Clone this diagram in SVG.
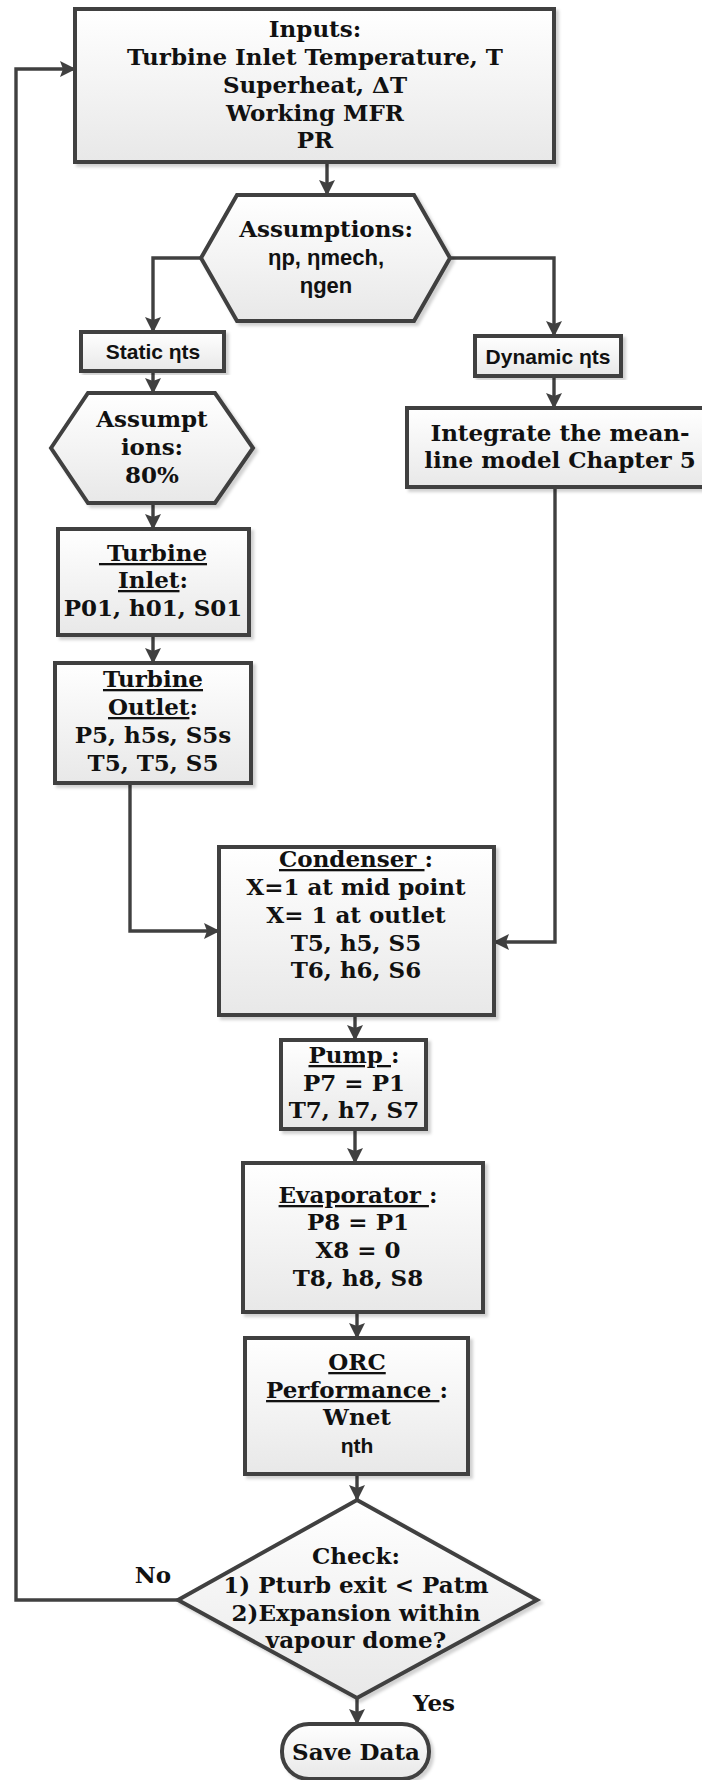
<svg xmlns="http://www.w3.org/2000/svg" width="702" height="1780" viewBox="0 0 702 1780">
<defs>
<linearGradient id="g" x1="0" y1="0" x2="0" y2="1">
<stop offset="0" stop-color="#ffffff"/>
<stop offset="1" stop-color="#e8e8e8"/>
</linearGradient>
<filter id="sh" x="-10%" y="-10%" width="120%" height="120%">
<feDropShadow dx="3" dy="3" stdDeviation="1.5" flood-color="#000" flood-opacity="0.18"/>
</filter>
<marker id="ar" markerUnits="userSpaceOnUse" markerWidth="18" markerHeight="18" refX="15" refY="8" orient="auto">
<path d="M0,0 L16,8 L0,16 L3,8 Z" fill="#404040"/>
</marker>
<style>
.n{fill:url(#g);stroke:#404040;stroke-width:4;filter:url(#sh)}
.c{fill:none;stroke:#404040;stroke-width:3.4;marker-end:url(#ar)}
.t{font-family:"DejaVu Serif","Liberation Serif",serif;font-weight:bold;font-size:23px;text-anchor:middle;fill:#111}
.s{font-family:"Liberation Sans",Arial,sans-serif;font-weight:bold;font-size:21px;text-anchor:middle;fill:#111}
.s2{font-size:22px}
.u{text-decoration:underline}
</style>
</defs>

<g id="connectors">
<path class="c" d="M327 162 V195"/>
<path class="c" d="M201 258 H153 V332"/>
<path class="c" d="M450 258 H554 V336"/>
<path class="c" d="M153 371 V393"/>
<path class="c" d="M554 376 V408"/>
<path class="c" d="M153 503 V529"/>
<path class="c" d="M153 635 V663"/>
<path class="c" d="M130 783 V931 H219"/>
<path class="c" d="M555 487 V942 H494"/>
<path class="c" d="M355 1015 V1040"/>
<path class="c" d="M355 1129 V1163"/>
<path class="c" d="M357 1312 V1338"/>
<path class="c" d="M357 1474 V1500"/>
<path class="c" d="M357 1698 V1724"/>
<path class="c" d="M178 1600 H16 V69 H75"/>
<text class="t" x="153" y="1583">No</text>
<text class="t" x="434" y="1711">Yes</text>
</g>

<g id="inputs">
<rect class="n" x="75" y="9" width="479" height="153"/>
<text class="t" x="315" y="37">Inputs:</text>
<text class="t" x="315" y="65">Turbine Inlet Temperature, T</text>
<text class="t" x="315" y="93">Superheat, ΔT</text>
<text class="t" x="315" y="121">Working MFR</text>
<text class="t" x="315" y="148">PR</text>
</g>

<g id="assumptions">
<polygon class="n" points="201,258 237,195 414,195 450,258 414,321 237,321"/>
<text class="t" x="326" y="237">Assumptions:</text>
<text class="s s2" x="326" y="265">ηp, ηmech,</text>
<text class="s s2" x="326" y="293">ηgen</text>
</g>

<g id="static">
<rect class="n" x="81" y="332" width="143" height="39"/>
<text class="s" x="153" y="359">Static ηts</text>
</g>

<g id="dynamic">
<rect class="n" x="475" y="336" width="146" height="40"/>
<text class="s" x="548" y="364">Dynamic ηts</text>
</g>

<g id="assumptions80">
<polygon class="n" points="51,448 88,393 215,393 253,448 215,503 88,503"/>
<text class="t" x="152" y="427">Assumpt</text>
<text class="t" x="152" y="455">ions:</text>
<text class="t" x="152" y="483">80%</text>
</g>

<g id="integrate">
<rect class="n" x="407" y="408" width="320" height="79"/>
<text class="t" x="560" y="441">Integrate the mean-</text>
<text class="t" x="560" y="468">line model Chapter 5</text>
</g>

<g id="turbine-inlet">
<rect class="n" x="58" y="529" width="191" height="106"/>
<text class="t" x="153" y="561" xml:space="preserve"><tspan class="u"> Turbine</tspan></text>
<text class="t" x="153" y="588"><tspan class="u">Inlet</tspan>:</text>
<text class="t" x="153" y="616">P01, h01, S01</text>
</g>

<g id="turbine-outlet">
<rect class="n" x="55" y="663" width="196" height="120"/>
<text class="t" x="153" y="687"><tspan class="u">Turbine</tspan></text>
<text class="t" x="153" y="715"><tspan class="u">Outlet</tspan>:</text>
<text class="t" x="153" y="743">P5, h5s, S5s</text>
<text class="t" x="153" y="771">T5, T5, S5</text>
</g>

<g id="condenser">
<rect class="n" x="219" y="847" width="275" height="168"/>
<text class="t" x="356" y="867" xml:space="preserve"><tspan class="u">Condenser </tspan>:</text>
<text class="t" x="356" y="895">X=1 at mid point</text>
<text class="t" x="356" y="923">X= 1 at outlet</text>
<text class="t" x="356" y="951">T5, h5, S5</text>
<text class="t" x="356" y="978">T6, h6, S6</text>
</g>

<g id="pump">
<rect class="n" x="281" y="1040" width="145" height="89"/>
<text class="t" x="354" y="1063" xml:space="preserve"><tspan class="u">Pump </tspan>:</text>
<text class="t" x="354" y="1091">P7 = P1</text>
<text class="t" x="354" y="1118">T7, h7, S7</text>
</g>

<g id="evaporator">
<rect class="n" x="243" y="1163" width="240" height="149"/>
<text class="t" x="358" y="1203" xml:space="preserve"><tspan class="u">Evaporator </tspan>:</text>
<text class="t" x="358" y="1230">P8 = P1</text>
<text class="t" x="358" y="1258">X8 = 0</text>
<text class="t" x="358" y="1286">T8, h8, S8</text>
</g>

<g id="orc-performance">
<rect class="n" x="245" y="1338" width="223" height="136"/>
<text class="t" x="357" y="1370"><tspan class="u">ORC</tspan></text>
<text class="t" x="357" y="1398" xml:space="preserve"><tspan class="u">Performance </tspan>:</text>
<text class="t" x="357" y="1425">Wnet</text>
<text class="s" x="357" y="1453">ηth</text>
</g>

<g id="check">
<polygon class="n" points="357,1500 537,1600 357,1698 178,1600"/>
<text class="t" x="356" y="1564">Check:</text>
<text class="t" x="356" y="1593">1) Pturb exit &lt; Patm</text>
<text class="t" x="356" y="1621">2)Expansion within</text>
<text class="t" x="356" y="1648">vapour dome?</text>
</g>

<g id="save-data">
<rect class="n" x="282" y="1724" width="147" height="55" rx="27" ry="27"/>
<text class="t" x="356" y="1760">Save Data</text>
</g>
</svg>
